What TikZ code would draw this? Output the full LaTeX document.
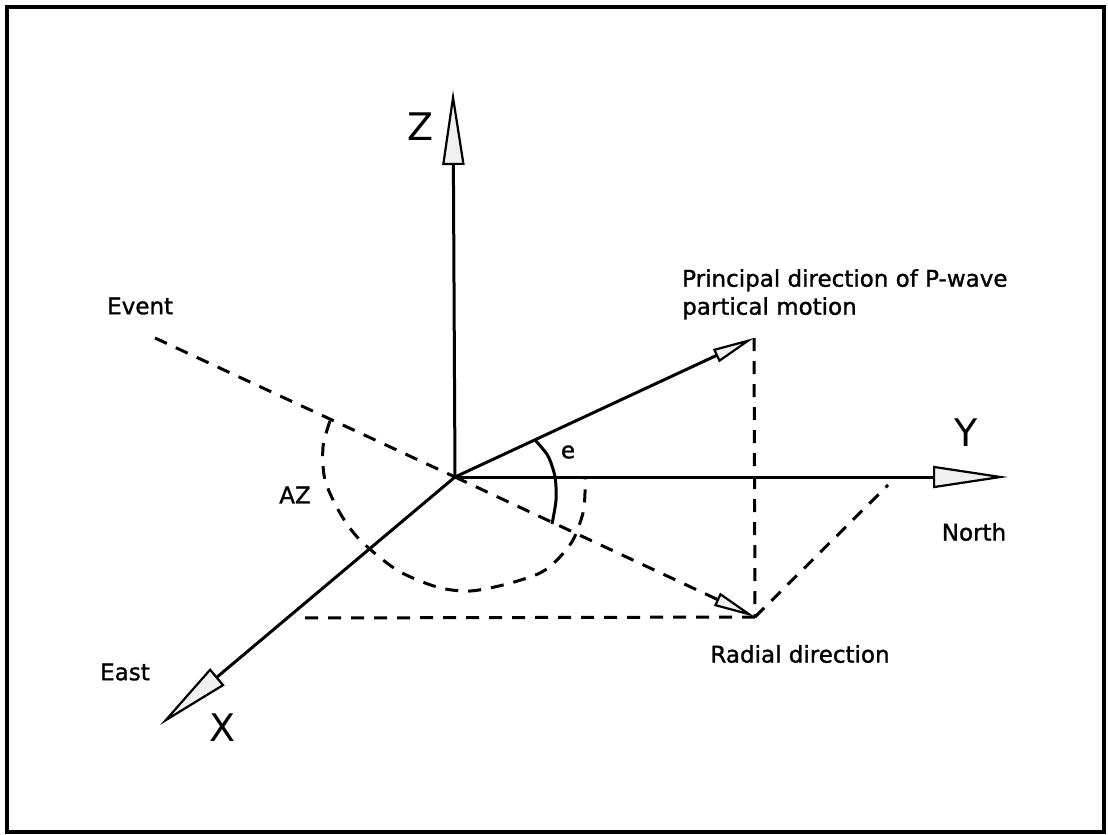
\documentclass[tikz,border=0pt]{standalone}
\usepackage{fontspec}
\setmainfont{DejaVu Sans}
\newfontfamily\lblfont[FakeBold=1.2]{DejaVu Sans}
\usetikzlibrary{arrows.meta}
\begin{document}
\begin{tikzpicture}[x=1pt,y=-1pt,
  axisline/.style={line width=3pt},
  dsh/.style={line width=3pt, dash pattern=on 13pt off 10pt},
  lbl/.style={font=\lblfont\fontsize{23}{28}\selectfont, inner sep=0pt},
  biglbl/.style={font=\fontsize{38}{42}\selectfont, inner sep=0pt},
  bigtip/.style={-{Triangle[length=75pt,width=22pt,fill=gray!12,line width=2.2pt]}},
  smalltip/.style={-{Triangle[length=42pt,width=14pt,fill=gray!12,line width=2.2pt]}},
]
\useasboundingbox (0,0) rectangle (1108,835);
\draw[line width=3.5pt] (7,7) rectangle (1104,832);

% key points
\coordinate (O) at (455,477);
\coordinate (Zt) at (453,90);
\coordinate (Yt) at (1008,477);
\coordinate (Xt) at (160,725);
\coordinate (Pt) at (754,338);
\coordinate (Rt) at (755,617);
\coordinate (Ev) at (155,338);
\coordinate (Nd) at (888,485);
\coordinate (Hd) at (295,618);

% axes
\draw[axisline,bigtip] (O) -- (Zt);
\draw[axisline,bigtip] (O) -- (Yt);
\draw[axisline,bigtip] (O) -- (Xt);
% principal direction
\draw[axisline,smalltip] (O) -- (Pt);
% dashed construction
\draw[dsh] (Ev) -- (O);
\draw[dsh,smalltip] (O) -- (Rt);
\draw[dsh] (Pt) -- (Rt);
\draw[dsh] (Rt) -- (Nd);
\draw[dsh] (Rt) -- (Hd);

% AZ arc (dashed)
\draw[dsh] plot[smooth] coordinates {(330,421) (323,447) (325,480) (340,513) (360,540) (397,570) (437,587) (470,591) (507,584) (540,573) (557,560) (573,540) (583,513) (585,493) (585,479)};
% e arc
\draw[axisline] plot[smooth] coordinates {(535,440) (548,456) (555,477) (556,500) (552,524)};

% labels
\node[biglbl] (zl) at (421,127) {Z};
\node[biglbl] (yl) at (966,433) {Y};
\node[biglbl] (xl) at (223,728) {X};
\node[lbl,anchor=west] (ev) at (107,306) {Event};
\node[lbl,anchor=north west,align=left] (pl) at (682,269) {Principal direction of P-wave\\partical motion};
\node[lbl] (el) at (568,452) {e};
\node[lbl] (az) at (295,495) {AZ};
\node[lbl] (no) at (974,532) {North};
\node[lbl] (ra) at (800,654) {Radial direction};
\node[lbl] (ea) at (125,672) {East};
\end{tikzpicture}
\end{document}
